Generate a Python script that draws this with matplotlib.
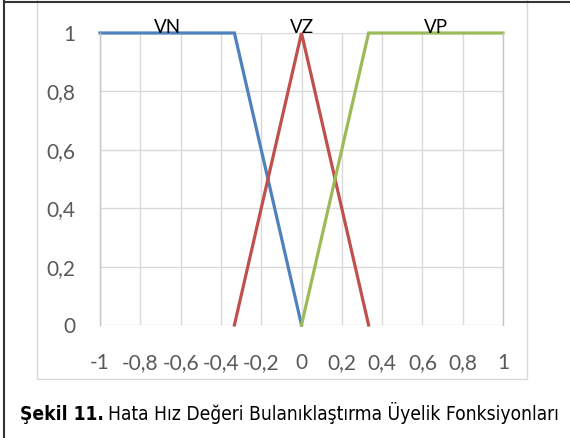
import matplotlib.pyplot as plt
from matplotlib.lines import Line2D
from matplotlib.patches import Rectangle

# membership functions
vn_x = [-1, -0.333, 0]
vn_y = [1, 1, 0]
vz_x = [-0.333, 0, 0.333]
vz_y = [0, 1, 0]
vp_x = [0, 0.333, 1]
vp_y = [0, 1, 1]
names = ["VN", "VZ", "VP"]
name_x = [-0.667, 0, 0.667]

xticks = [-1, -0.8, -0.6, -0.4, -0.2, 0, 0.2, 0.4, 0.6, 0.8, 1]
xlabels = ["-1", "-0,8", "-0,6", "-0,4", "-0,2", "0", "0,2", "0,4", "0,6", "0,8", "1"]
yticks = [0, 0.2, 0.4, 0.6, 0.8, 1]
ylabels = ["0", "0,2", "0,4", "0,6", "0,8", "1"]

caption_bold = "Şekil 11."
caption_text = "Hata Hız Değeri Bulanıklaştırma Üyelik Fonksiyonları"

fig = plt.figure(figsize=(5.7, 4.38), dpi=100)
ax = fig.add_axes([100 / 570, 1 - 325 / 438, 403 / 570, 292 / 438])

ax.plot(vn_x, vn_y, color="#4F81BD", lw=2.3, solid_joinstyle="miter", clip_on=False)
ax.plot(vz_x, vz_y, color="#C0504D", lw=2.3, solid_joinstyle="miter", clip_on=False)
ax.plot(vp_x, vp_y, color="#9BBB59", lw=2.3, solid_joinstyle="miter", clip_on=False)
for n, x in zip(names, name_x):
    ax.text(x, 0.99, n, ha="center", va="bottom", fontsize=13.5,
            family="Lato", color="black")

ax.set_xlim(-1, 1)
ax.set_ylim(0, 1)
ax.set_xticks(xticks)
ax.set_xticklabels(xlabels)
ax.set_yticks(yticks)
ax.set_yticklabels(ylabels)
for lab in ax.get_xticklabels() + ax.get_yticklabels():
    lab.set_family("Lato")
    lab.set_fontsize(15)
    lab.set_color("#595959")
ax.tick_params(axis="x", length=0, pad=20)
ax.tick_params(axis="y", length=0, pad=18)
ax.grid(True, color="#D9D9D9", lw=1)
ax.set_axisbelow(True)
for s in ["top", "bottom"]:
    ax.spines[s].set_visible(False)
for s in ["left", "right"]:
    ax.spines[s].set_color("#C6C6C6")
    ax.spines[s].set_linewidth(1)

# chart area box and page frame
fig.patches.append(Rectangle((37 / 570, 1 - 379 / 438), 490 / 570, 379 / 438 + 0.05,
                             transform=fig.transFigure, fill=False,
                             edgecolor="#D9D9D9", lw=1))
fig.lines.append(Line2D([4 / 570, 4 / 570], [0, 1], transform=fig.transFigure,
                        color="#333333", lw=1.5))
fig.lines.append(Line2D([4 / 570, 1], [1 - 1.5 / 438, 1 - 1.5 / 438],
                        transform=fig.transFigure, color="#333333", lw=1.5))

# caption
narrow = ["Liberation Sans Narrow", "DejaVu Sans"]
t1 = fig.text(20 / 570, 1 - 420 / 438, caption_bold, fontsize=13.8,
              weight="bold", family=narrow, stretch="condensed", va="baseline")
r = fig.canvas.get_renderer()
bb = t1.get_window_extent(renderer=r)
fig.text((bb.x1 + 4) / 570, 1 - 420 / 438, caption_text, fontsize=13.8,
         family=narrow, stretch="condensed", va="baseline")

fig.savefig("out.png", dpi=100)
